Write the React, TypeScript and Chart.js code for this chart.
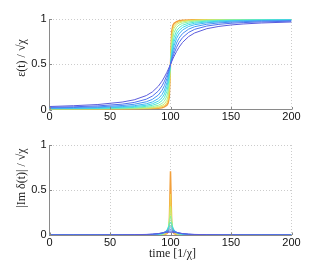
import React, { useEffect, useRef } from "react";
import { Chart, registerables } from "chart.js";

Chart.register(...registerables);

// time samples [1/chi]
const TIME = [0, 20, 40, 60, 70, 80, 85, 90, 93, 95, 97, 98, 99, 100, 101, 102, 103, 105, 107, 110, 115, 120, 130, 140, 150, 160, 175, 200];

// top panel: epsilon(t)/sqrt(chi), one series per curve (blue -> orange)
const E1 = [.033, .042, .055, .082, .107, .154, .194, .258, .313, .359, .411, .440, .470, .5, .530, .560, .589, .641, .687, .742, .806, .846, .893, .918, .934, .945, .956, .967];
const E2 = [.024, .030, .040, .059, .078, .114, .148, .205, .261, .313, .379, .417, .458, .5, .542, .583, .621, .687, .739, .795, .852, .886, .922, .941, .953, .960, .968, .976];
const E3 = [.018, .022, .029, .044, .058, .085, .112, .160, .212, .265, .341, .389, .443, .5, .557, .611, .659, .735, .788, .840, .888, .915, .942, .957, .965, .971, .977, .983];
const E4 = [.013, .016, .021, .032, .042, .063, .083, .121, .165, .215, .295, .352, .422, .5, .578, .648, .705, .785, .835, .879, .917, .937, .958, .968, .975, .979, .983, .987];
const E5 = [.010, .012, .016, .024, .032, .047, .063, .093, .129, .172, .250, .313, .398, .5, .602, .687, .750, .828, .871, .907, .937, .953, .968, .976, .981, .984, .987, .990];
const E6 = [.007, .009, .012, .018, .023, .035, .046, .069, .097, .132, .201, .265, .364, .5, .636, .735, .799, .868, .903, .931, .954, .965, .977, .983, .986, .988, .991, .993];
const E7 = [.005, .006, .008, .012, .016, .024, .032, .047, .067, .093, .148, .205, .313, .5, .687, .795, .852, .907, .933, .953, .968, .976, .984, .988, .991, .992, .994, .995];
const E8 = [.003, .004, .005, .008, .011, .016, .021, .032, .045, .063, .102, .148, .250, .5, .750, .852, .898, .937, .955, .968, .979, .984, .989, .992, .994, .995, .996, .997];
const E9 = [.002, .003, .004, .006, .007, .011, .015, .022, .032, .044, .073, .107, .194, .5, .806, .893, .927, .956, .968, .978, .985, .989, .993, .994, .996, .996, .997, .998];
const E10 = [.001, .002, .002, .004, .005, .007, .010, .014, .020, .029, .047, .070, .135, .5, .865, .930, .953, .971, .980, .986, .990, .993, .995, .996, .997, .998, .998, .999];

// bottom panel: |Im delta(t)|/sqrt(chi)
const L1 = [.0003, .0005, .0009, .0020, .0033, .0065, .0100, .0159, .0210, .0247, .0280, .0293, .0300, .0303, .0300, .0293, .0280, .0247, .0210, .0159, .0100, .0065, .0033, .0020, .0013, .0009, .0006, .0003];
const L2 = [.0002, .0004, .0006, .0014, .0025, .0052, .0085, .0153, .0227, .0294, .0366, .0396, .0417, .0424, .0417, .0396, .0366, .0294, .0227, .0153, .0085, .0052, .0025, .0014, .0009, .0006, .0004, .0002];
const L3 = [.0002, .0003, .0005, .0011, .0019, .0041, .0069, .0134, .0221, .0317, .0446, .0511, .0560, .0579, .0560, .0511, .0446, .0317, .0221, .0134, .0069, .0041, .0019, .0011, .0007, .0005, .0003, .0002];
const L4 = [.0001, .0002, .0004, .0008, .0014, .0031, .0053, .0110, .0196, .0311, .0509, .0637, .0749, .0796, .0749, .0637, .0509, .0311, .0196, .0110, .0053, .0031, .0014, .0008, .0005, .0004, .0002, .0001];
const L5 = [.0001, .0001, .0003, .0006, .0011, .0023, .0041, .0088, .0165, .0281, .0531, .0735, .0955, .1061, .0955, .0735, .0531, .0281, .0165, .0088, .0041, .0023, .0011, .0006, .0004, .0003, .0002, .0001];
const L6 = [.0001, .0001, .0002, .0004, .0008, .0017, .0030, .0067, .0130, .0235, .0506, .0792, .1199, .1447, .1199, .0792, .0506, .0235, .0130, .0067, .0030, .0017, .0008, .0004, .0003, .0002, .0001, .0001];
const L7 = [.0001, .0001, .0001, .0003, .0005, .0012, .0021, .0047, .0093, .0175, .0424, .0764, .1469, .2122, .1469, .0764, .0424, .0175, .0093, .0047, .0021, .0012, .0005, .0003, .0002, .0001, .0001, .0001];
const L8 = [.0001, .0001, .0001, .0002, .0004, .0008, .0014, .0032, .0064, .0122, .0318, .0637, .1592, .3183, .1592, .0637, .0318, .0122, .0064, .0032, .0014, .0008, .0004, .0002, .0001, .0001, .0001, .0001];
const L9 = [.0001, .0001, .0001, .0001, .0002, .0006, .0010, .0022, .0045, .0087, .0235, .0496, .1495, .4547, .1495, .0496, .0235, .0087, .0045, .0022, .0010, .0006, .0002, .0001, .0001, .0001, .0001, .0001];
const L10 = [.0001, .0001, .0001, .0001, .0002, .0004, .0006, .0014, .0029, .0057, .0156, .0341, .1191, .7074, .1191, .0341, .0156, .0057, .0029, .0014, .0006, .0004, .0002, .0001, .0001, .0001, .0001, .0001];

const TOP_SERIES = [E1, E2, E3, E4, E5, E6, E7, E8, E9, E10];
const BOTTOM_SERIES = [L1, L2, L3, L4, L5, L6, L7, L8, L9, L10];

const COLORS = ["#5c5cdc", "#4f70ec", "#4592f2", "#40b6f2", "#40d6ea", "#52eacc", "#8ef0a2", "#c6ee70", "#f0d652", "#f2a03c"];

const X_TICKS = [0, 50, 100, 150, 200];
const Y_TICKS = [0, 0.5, 1];
const Y_TICK_LABELS = ["0", "0.5", "1"];

const TOP_YLABEL = "ε(t) / √χ";
const BOTTOM_YLABEL = "|Im δ(t)| / √χ";
const XLABEL = "time [1/χ]";

type PanelProps = {
  series: number[][];
  height: number;
  padTop: number;
  xHeight: number;
  yLabel: string;
  yLabelCenter: number;
  xLabel?: string;
  xLabelY?: number;
};

function Panel({ series, height, padTop, xHeight, yLabel, yLabelCenter, xLabel, xLabelY }: PanelProps) {
  const ref = useRef<HTMLCanvasElement | null>(null);
  useEffect(() => {
    if (!ref.current) return;
    const labelPlugin = {
      id: "labels",
      afterDraw(chart: any) {
        const ctx = chart.ctx;
        const area = chart.chartArea;
        const xs = chart.scales.x;
        const ys = chart.scales.y;
        ctx.save();
        // inward tick marks
        ctx.strokeStyle = "#888";
        ctx.lineWidth = 1;
        ctx.beginPath();
        X_TICKS.forEach((v) => {
          const px = Math.round(xs.getPixelForValue(v)) + 0.5;
          ctx.moveTo(px, area.bottom);
          ctx.lineTo(px, area.bottom - 2.5);
        });
        Y_TICKS.forEach((v) => {
          const py = Math.round(ys.getPixelForValue(v)) + 0.5;
          ctx.moveTo(area.left, py);
          ctx.lineTo(area.left + 2.5, py);
        });
        ctx.stroke();
        // y title
        ctx.fillStyle = "#222";
        ctx.font = "12px 'Liberation Serif', 'DejaVu Serif', serif";
        ctx.textAlign = "center";
        ctx.textBaseline = "middle";
        ctx.translate(22, yLabelCenter);
        ctx.rotate(-Math.PI / 2);
        ctx.fillText(yLabel, 0, 0);
        ctx.restore();
        if (xLabel) {
          ctx.save();
          ctx.fillStyle = "#222";
          ctx.font = "12px 'Liberation Serif', 'DejaVu Serif', serif";
          ctx.textAlign = "center";
          ctx.textBaseline = "middle";
          ctx.fillText(xLabel, (area.left + area.right) / 2 + 2, xLabelY);
          ctx.restore();
        }
      },
    };
    const gridColor = (c: any) => (c.tick && c.tick.value === 0 ? "rgba(0,0,0,0)" : "#cccccc");
    const chart = new Chart(ref.current, {
      type: "line",
      data: {
        datasets: series.map((s, i) => ({
          data: TIME.map((t, j) => ({ x: t, y: s[j] })),
          borderColor: COLORS[i],
          borderWidth: i === series.length - 1 ? 1.5 : 1,
          pointRadius: 0,
          fill: false,
          tension: 0,
        })),
      },
      options: {
        animation: false,
        responsive: false,
        events: [],
        layout: { padding: { top: padTop, right: 30.5, left: 0, bottom: 0 } },
        plugins: { legend: { display: false }, tooltip: { enabled: false } },
        scales: {
          x: {
            type: "linear",
            min: 0,
            max: 200,
            afterBuildTicks: (s: any) => {
              s.ticks = X_TICKS.map((v) => ({ value: v }));
            },
            afterFit: (s: any) => {
              s.height = xHeight;
              s.paddingLeft = 0;
              s.paddingRight = 0;
              s.paddingTop = 0;
              s.paddingBottom = 0;
            },
            ticks: {
              font: { family: "'Liberation Sans', Arial, sans-serif", size: 11 },
              color: "#111",
              padding: 1,
              maxRotation: 0,
              autoSkip: false,
              callback: (v: any) => String(v),
            },
            grid: { color: gridColor, lineWidth: 1, drawTicks: false },
            border: { display: true, color: "#8a8a8a", width: 1, dash: [1, 2] },
          },
          y: {
            type: "linear",
            min: 0,
            max: 1,
            afterBuildTicks: (s: any) => {
              s.ticks = Y_TICKS.map((v) => ({ value: v }));
            },
            afterFit: (s: any) => {
              s.width = 49.5;
              s.paddingLeft = 0;
              s.paddingRight = 0;
              s.paddingTop = 0;
              s.paddingBottom = 0;
            },
            ticks: {
              font: { family: "'Liberation Sans', Arial, sans-serif", size: 11 },
              color: "#111",
              padding: 3,
              callback: (v: any) => {
                const k = Y_TICKS.indexOf(Number(v));
                return k >= 0 ? Y_TICK_LABELS[k] : String(v);
              },
            },
            grid: { color: gridColor, lineWidth: 1, drawTicks: false },
            border: { display: true, color: "#8a8a8a", width: 1, dash: [1, 2] },
          },
        },
      },
      plugins: [labelPlugin],
    } as any);
    return () => chart.destroy();
  }, []);
  return <canvas ref={ref} width={322} height={height} style={{ display: "block", width: 322, height }} />;
}

export default function App() {
  return (
    <div style={{ position: "absolute", left: 0, top: 0, width: 322, height: 265, background: "#fff", overflow: "hidden" }}>
      <div style={{ position: "absolute", left: 0, top: 0 }}>
        <Panel series={TOP_SERIES} height={130} padTop={19} xHeight={20.5} yLabel={TOP_YLABEL} yLabelCenter={58} />
      </div>
      <div style={{ position: "absolute", left: 0, top: 130 }}>
        <Panel
          series={BOTTOM_SERIES}
          height={135}
          padTop={15}
          xHeight={30}
          yLabel={BOTTOM_YLABEL}
          yLabelCenter={48}
          xLabel={XLABEL}
          xLabelY={124}
        />
      </div>
    </div>
  );
}
